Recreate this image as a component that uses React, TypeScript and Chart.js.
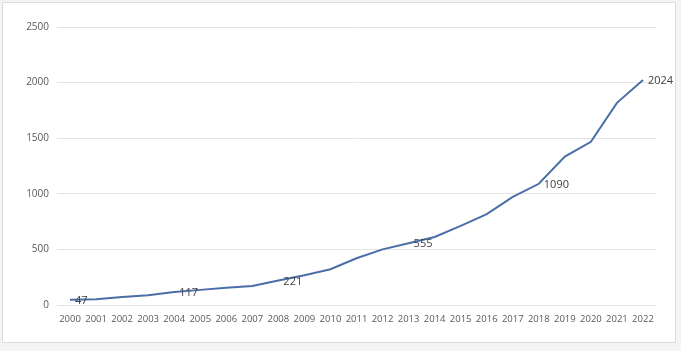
import React, { useEffect, useRef } from "react";
import { Chart, registerables } from "chart.js";

Chart.register(...registerables);

const years = [
  "2000", "2001", "2002", "2003", "2004", "2005", "2006", "2007", "2008", "2009", "2010", "2011",
  "2012", "2013", "2014", "2015", "2016", "2017", "2018", "2019", "2020", "2021", "2022",
];
const values = [
  47, 52, 71, 88, 117, 136, 155, 170, 221, 268, 322, 420,
  500, 555, 612, 712, 818, 972, 1090, 1335, 1468, 1818, 2024,
];
const labeledYears = ["2000", "2004", "2008", "2013", "2018", "2022"];
const yTicks = [0, 500, 1000, 1500, 2000, 2500];

const FONT = "'Open Sans', 'Liberation Sans', sans-serif";

const dataLabelPlugin = {
  id: "dataLabels",
  afterDatasetsDraw(chart: any) {
    const ctx = chart.ctx;
    const meta = chart.getDatasetMeta(0);
    ctx.save();
    ctx.font = `11px ${FONT}`;
    ctx.fillStyle = "#404040";
    ctx.textAlign = "left";
    ctx.textBaseline = "middle";
    labeledYears.forEach((yr) => {
      const i = years.indexOf(yr);
      const pt = meta.data[i];
      if (!pt) return;
      ctx.fillText(String(values[i]), pt.x + 5, pt.y + 1);
    });
    ctx.restore();
  },
};

export default function App() {
  const ref = useRef<HTMLCanvasElement | null>(null);
  useEffect(() => {
    if (!ref.current) return;
    const chart = new Chart(ref.current, {
      type: "line",
      data: {
        labels: years,
        datasets: [
          {
            data: values,
            borderColor: "#4a6ea6",
            borderWidth: 2,
            pointRadius: 0,
            tension: 0,
            fill: false,
          },
        ],
      },
      options: {
        responsive: false,
        animation: false,
        layout: { padding: { top: 27, right: 25, bottom: 26, left: 0 } },
        plugins: { legend: { display: false }, tooltip: { enabled: false } },
        scales: {
          x: {
            type: "category",
            offset: true,
            grid: { display: false, offset: true, drawTicks: false },
            border: { display: false },
            ticks: {
              color: "#595959",
              font: { family: FONT, size: 9.5 },
              padding: 9,
              maxRotation: 0,
              autoSkip: false,
            },
            afterFit: (s: any) => {
              s.height = 20;
            },
          },
          y: {
            min: 0,
            max: 2500,
            afterBuildTicks: (s: any) => {
              s.ticks = yTicks.map((v) => ({ value: v }));
            },
            grid: { color: "#e4e4e4", drawTicks: false, lineWidth: 1 },
            border: { display: false },
            ticks: {
              color: "#595959",
              font: { family: FONT, size: 10 },
              padding: 8,
              callback: (v: any) => String(v),
            },
            afterFit: (s: any) => {
              s.width = 57;
            },
          },
        },
      },
      plugins: [dataLabelPlugin],
    });
    return () => chart.destroy();
  }, []);

  return (
    <div
      style={{
        position: "fixed",
        left: 0,
        top: 0,
        width: 681,
        height: 351,
        background: "#f3f4f5",
      }}
    >
      <div
        style={{
          position: "absolute",
          left: 2,
          top: 2,
          width: 674,
          height: 341,
          boxSizing: "border-box",
          border: "1px solid #dcdcdc",
          background: "#ffffff",
        }}
      />
      <canvas
        ref={ref}
        width={681}
        height={351}
        style={{ position: "absolute", left: 0, top: 0, width: 681, height: 351 }}
      />
    </div>
  );
}
